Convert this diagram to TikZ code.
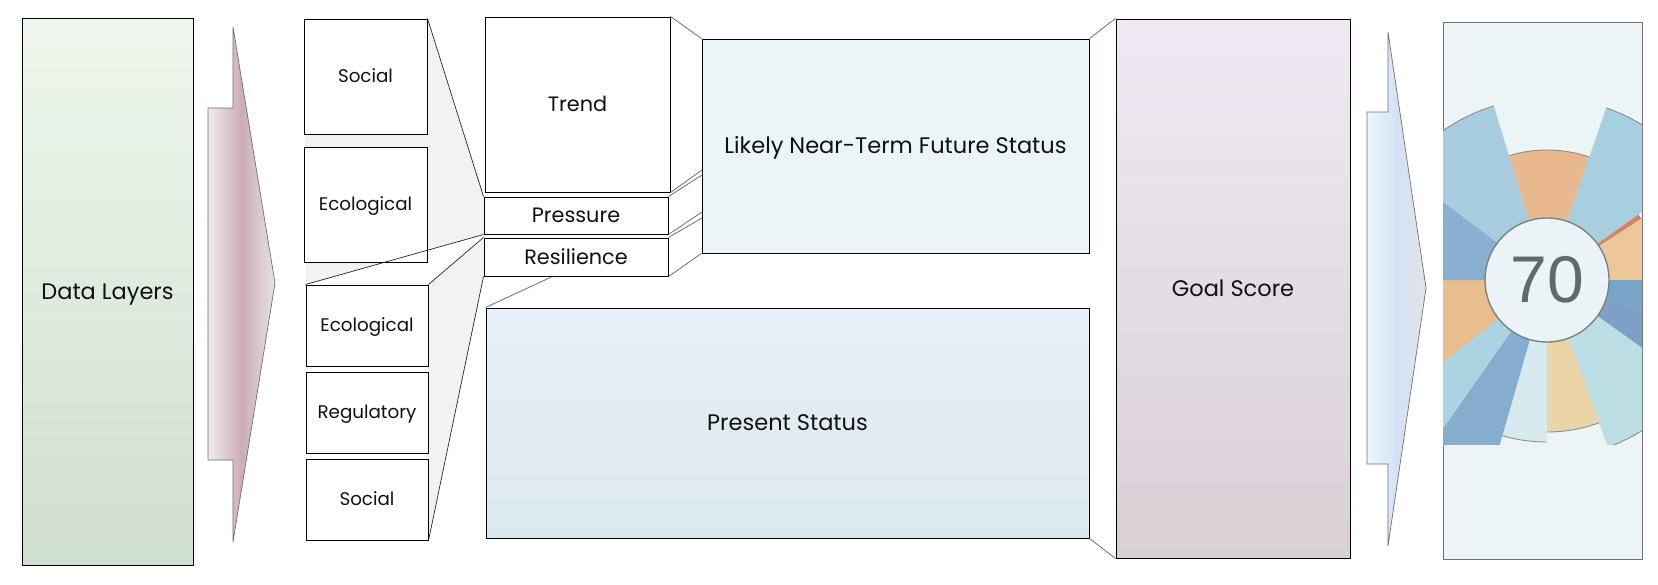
\documentclass[tikz,border=0pt]{standalone}
\usepackage{fontspec}
\setmainfont{Poppins}
\newfontfamily\numfont{Liberation Sans}
\usetikzlibrary{calc}
\definecolor{fang}{HTML}{F2F2F2}
\definecolor{conn}{HTML}{707070}
\definecolor{txt}{HTML}{111111}
\begin{document}
\begin{tikzpicture}[x=1pt,y=-1pt,
  box/.style={draw=black, line width=1pt, fill=white, inner sep=0pt, text=txt, text depth=0pt},
  fanline/.style={draw=black!85, line width=0.7pt},
  grayline/.style={draw=conn, line width=0.8pt},
  small/.style={font=\fontsize{18.3}{21}\selectfont, text height=12.8pt},
  mid/.style={font=\fontsize{20.8}{24}\selectfont, text height=14.6pt},
  big/.style={font=\fontsize{22.5}{26}\selectfont, text height=15.8pt}]
\useasboundingbox (0,0) rectangle (1658,584);
\fill[white] (0,0) rectangle (1658,584);

% fans (drawn before boxes)
\fill[fang] (304,19) -- (427,19) -- (484,197) -- (484,234) -- (306,285) -- cycle;
\fill[fang] (428,285) -- (484,238) -- (484,276) -- (428,540) -- cycle;

% left boxes
\node[box, small, minimum width=123pt, minimum height=115pt] (social1) at (365.5,76.5) {Social};
\node[box, small, minimum width=123pt, minimum height=115pt] (ecol1) at (365.5,204.5) {Ecological};
\node[box, small, minimum width=122pt, minimum height=81pt] (ecol2) at (367,325.5) {Ecological};
\node[box, small, minimum width=122pt, minimum height=81pt] (regul) at (367,412.5) {Regulatory};
\node[box, small, minimum width=122pt, minimum height=81pt] (social2) at (367,499.5) {Social};

% middle stack
\node[box, mid, minimum width=185pt, minimum height=175pt] (trend) at (577.5,104.5) {Trend};
\node[box, mid, minimum width=184pt, minimum height=37pt] (press) at (576,215.5) {Pressure};
\node[box, mid, minimum width=184pt, minimum height=38pt] (resil) at (576,257) {Resilience};

% fan lines
\draw[fanline] (social1.north east) -- (press.north west);
\draw[fanline] (ecol2.north west) -- (press.south west);
\draw[fanline] (ecol2.north east) -- (resil.north west);
\draw[fanline] (social2.south east) -- (resil.south west);

% data layers
\node[box, big, minimum width=171pt, minimum height=547pt,
      top color={rgb,255:red,239;green,246;blue,237}, bottom color={rgb,255:red,207;green,223;blue,209}] (data) at (107.5,291.5) {Data Layers};

% chevron 1
\shade[left color={rgb,255:red,240;green,235;blue,238}, right color={rgb,255:red,230;green,226;blue,229},
       middle color={rgb,255:red,205;green,172;blue,183}]
  (233,27) -- (275,283) -- (233,542) -- (233,460) -- (208,460) -- (208,108) -- (233,108) -- cycle;
\draw[conn, line width=0.7pt]
  (233,27) -- (275,283) -- (233,542) -- (233,460) -- (208,460) -- (208,108) -- (233,108) -- cycle;

% likely / present
\node[box, big, minimum width=387pt, minimum height=214pt,
      fill={rgb,255:red,235;green,244;blue,247}] (likely) at (895.5,146) {Likely Near-Term Future Status};
\node[box, big, minimum width=603pt, minimum height=230pt,
      top color={rgb,255:red,230;green,241;blue,247}, bottom color={rgb,255:red,219;green,232;blue,238}] (present) at (787.5,423) {Present Status};

% 3D connectors middle stack -> likely
\coordinate (l1) at (702,170);
\coordinate (l2) at (702,175);
\coordinate (l3) at (702,212);
\coordinate (l4) at (702,218);
\draw[grayline] (trend.north east) -- (likely.north west);
\draw[grayline] (trend.south east) -- (l1);
\draw[grayline] (press.north east) -- (l2);
\draw[grayline] (press.south east) -- (l3);
\draw[grayline] (resil.north east) -- (l4);
\draw[grayline] (resil.south east) -- (likely.south west);
\draw[grayline] ([xshift=69pt]resil.south west) -- (present.north west);

% goal score
\node[box, big, minimum width=234pt, minimum height=539pt,
      top color={rgb,255:red,240;green,233;blue,243}, bottom color={rgb,255:red,216;green,208;blue,213}] (goal) at (1233,288.5) {Goal Score};
\draw[grayline] (likely.north east) -- (goal.north west);
\draw[grayline] (present.south east) -- (goal.south west);

% chevron 2
\shade[left color={rgb,255:red,234;green,247;blue,250}, right color={rgb,255:red,226;green,227;blue,232},
       middle color={rgb,255:red,211;green,226;blue,246}]
  (1388,32) -- (1426,288) -- (1388,546) -- (1388,464) -- (1367,464) -- (1367,112) -- (1388,112) -- cycle;
\draw[conn, line width=0.7pt]
  (1388,32) -- (1426,288) -- (1388,546) -- (1388,464) -- (1367,464) -- (1367,112) -- (1388,112) -- cycle;

% score panel
\node[draw=conn, line width=1pt, fill={rgb,255:red,236;green,244;blue,246}, minimum width=199pt, minimum height=537pt, inner sep=0pt] (panel) at (1542.5,290.5) {};
\coordinate (wc) at (1547,280);
\begin{scope}
\clip (1443,22) rectangle (1642,444);
\foreach \sa/\ea/\r/\col in {
  -17/19/130/E8B98F,
  19/54.4/182/A8CFE0,
  54.4/57/112/D4826A,
  57/90/175/ECC79A,
  90/108/175/7BA4C9,
  108/125.6/175/7E9FC7,
  125.6/160/178/BCDFE6,
  160/180/152/EBD4A6,
  180/196/162/D6EAF0,
  196/215/200/85ADCD,
  215/231.5/200/ABD3E1,
  231.5/270/175/E8BE8F,
  270/307/175/8AB0D1,
  307/343/182/A6CCDE} {
  \pgfmathsetmacro{\a}{\sa-90}
  \pgfmathsetmacro{\b}{\ea-90}
  \definecolor{pc}{HTML}{\col}
  \fill[pc] (wc) -- ++(\a:\r) arc[start angle=\a, end angle=\b, radius=\r] -- cycle;
  \draw[conn!80, line width=0.9pt] ($(wc)+(\a:\r)$) arc[start angle=\a, end angle=\b, radius=\r];
}
\end{scope}
\node[circle, draw={rgb,255:red,122;green,130;blue,133}, line width=1.4pt,
      fill={rgb,255:red,235;green,243;blue,246}, minimum size=124pt, inner sep=0pt,
      text={rgb,255:red,95;green,106;blue,110}, font=\numfont\fontsize{66}{66}\selectfont] (score) at (wc) {70};
\end{tikzpicture}
\end{document}
